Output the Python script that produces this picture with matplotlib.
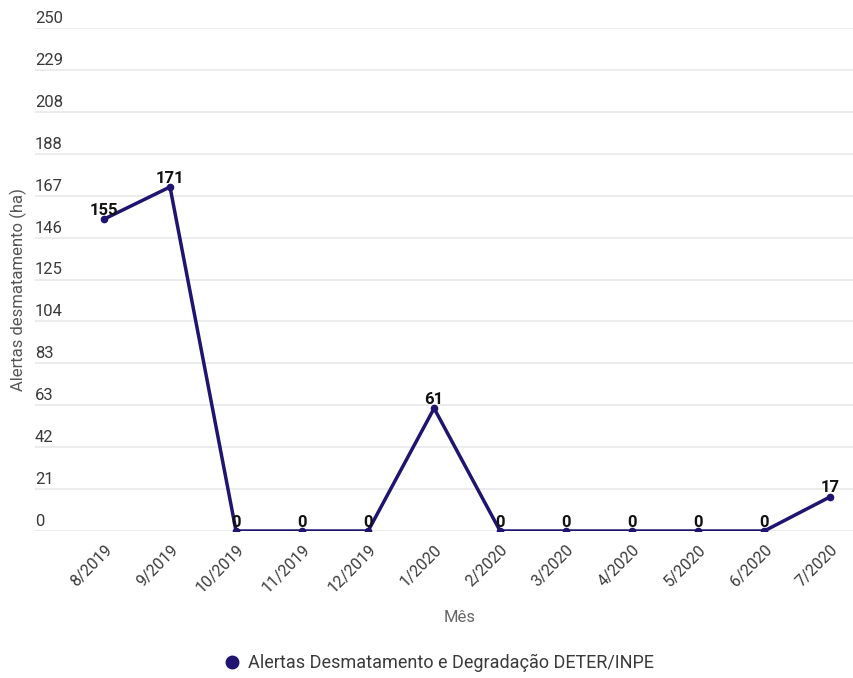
import numpy as np
import matplotlib.pyplot as plt
import matplotlib.transforms as mtransforms

plt.rcParams['font.family'] = ['Roboto', 'DejaVu Sans']

months = ['8/2019', '9/2019', '10/2019', '11/2019', '12/2019', '1/2020',
          '2/2020', '3/2020', '4/2020', '5/2020', '6/2020', '7/2020']
alertas = [155, 171, 0, 0, 0, 61, 0, 0, 0, 0, 0, 17]
y_ticks = [0, 21, 42, 63, 83, 104, 125, 146, 167, 188, 208, 229, 250]

line_color = '#1f1570'
W, H = 854, 678

fig = plt.figure(figsize=(W / 100, H / 100), dpi=100)
ax = fig.add_axes([35 / W, (H - 531) / H, (854 - 35) / W, (531 - 28) / H])

x = np.arange(len(months))
ax.set_xlim(-1.045, 11.36)
ax.set_ylim(0, 250)

# gridlines with labels sitting above them, Google-charts style
tick_pos = np.linspace(0, 250, len(y_ticks))
trans = mtransforms.blended_transform_factory(ax.transAxes, ax.transData)
for v, lab in zip(tick_pos, y_ticks):
    ax.axhline(v, color='#ebebeb', lw=1.3, zorder=0)
    ax.annotate(str(lab), (0, v), xycoords=trans, xytext=(0, 1.5),
                textcoords='offset points', ha='left', va='bottom',
                fontsize=12, color='#3a3a3a')
ax.set_yticks([])

ax.plot(x, alertas, color=line_color, lw=2.5, marker='o', ms=4.5,
        label='Alertas Desmatamento e Degradação DETER/INPE', zorder=3)
for xi, v in zip(x, alertas):
    ax.annotate(str(v), (xi, v), xytext=(0, 1), textcoords='offset points',
                ha='center', va='bottom', fontsize=12, fontweight='bold',
                color='#111111', zorder=4)

ax.set_xticks(x)
ax.set_xticklabels(months, rotation=45, ha='right', rotation_mode='anchor',
                   fontsize=11.5, color='#3a3a3a')
ax.tick_params(axis='x', length=0, pad=8)
for s in ax.spines.values():
    s.set_visible(False)

fig.text(460 / W, 1 - 617 / H, 'Mês', ha='center', va='center',
         fontsize=12, color='#666666')
fig.text(18 / W, 1 - 290 / H, 'Alertas desmatamento (ha)', ha='center',
         va='center', rotation=90, fontsize=12, color='#555555')

leg = fig.legend(loc='center', bbox_to_anchor=(440 / W, 1 - 663 / H),
                 frameon=False, fontsize=13, handlelength=0.6,
                 handletextpad=0.6, markerscale=2)
for h in leg.legend_handles:
    h.set_linestyle('none')
for t in leg.get_texts():
    t.set_color('#3a3a3a')

fig.savefig('out.png', dpi=100)
